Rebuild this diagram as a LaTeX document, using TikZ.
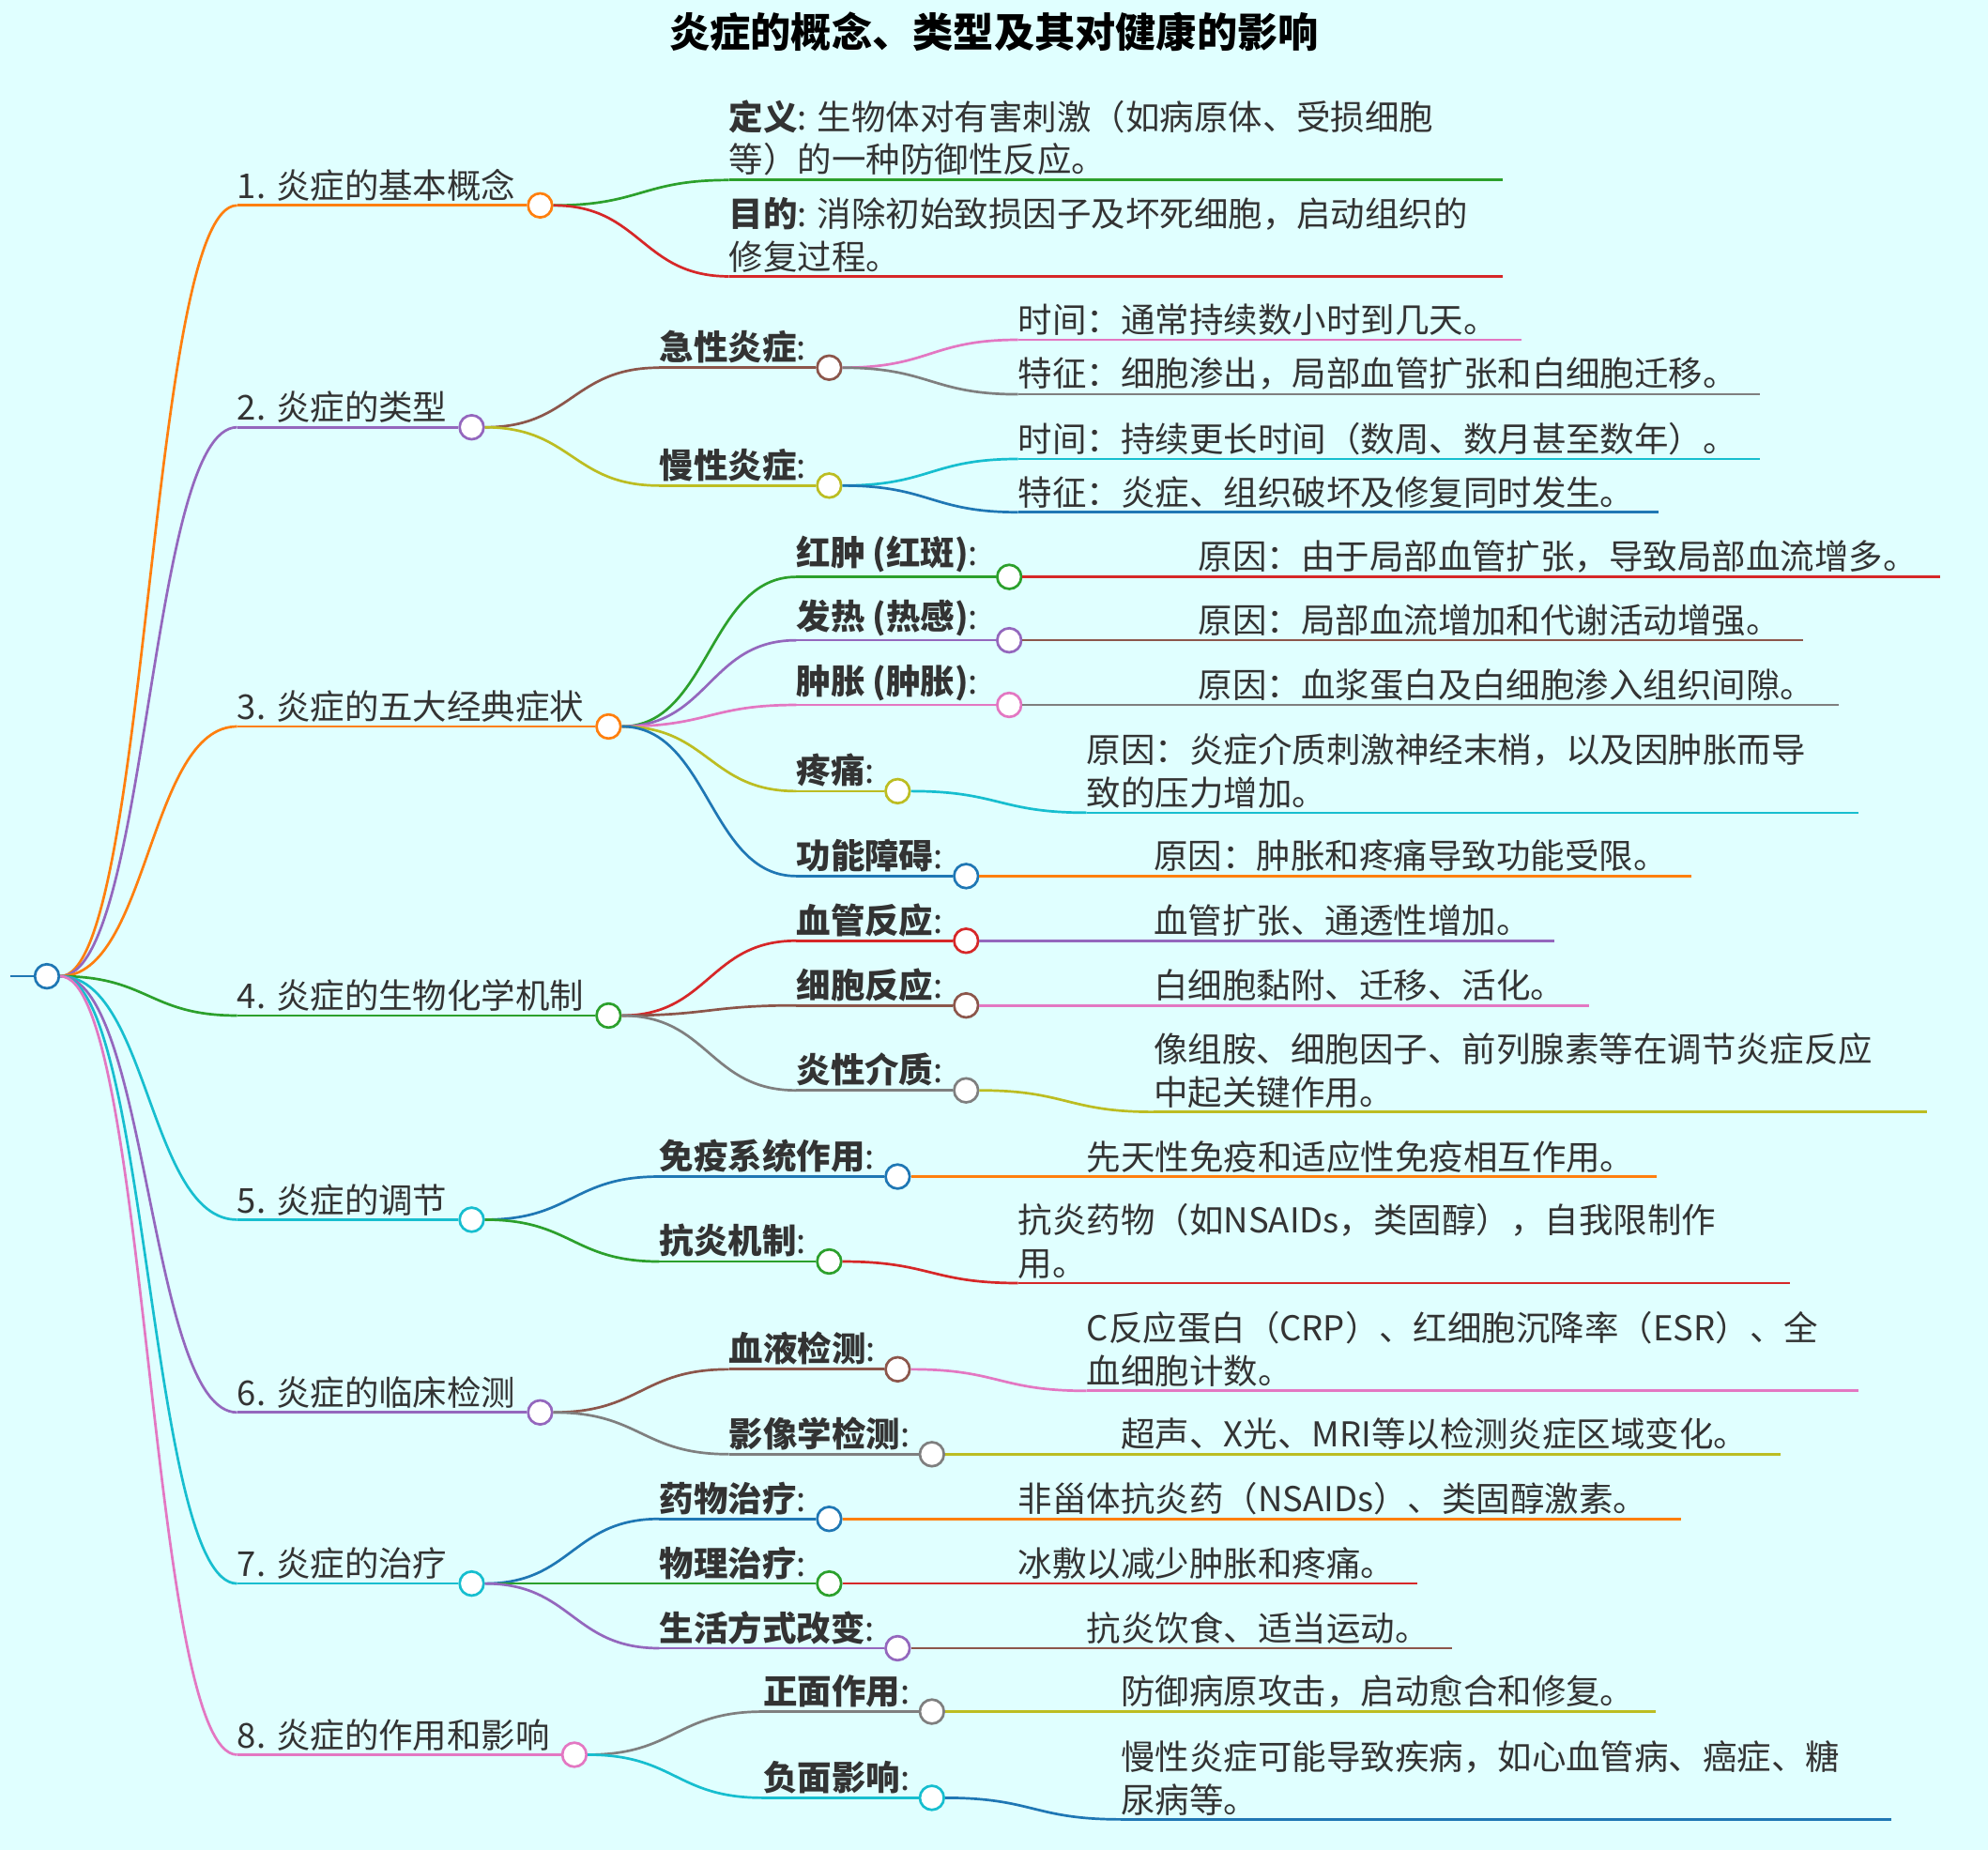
\documentclass[tikz,border=0pt]{standalone}
\usepackage{fontspec}
\usetikzlibrary{calc}
\setmainfont{Noto Sans CJK SC}
\definecolor{bg}{RGB}{224,255,255}
\definecolor{cO}{HTML}{FF7F0E}\definecolor{cP}{HTML}{9467BD}\definecolor{cG}{HTML}{2CA02C}
\definecolor{cR}{HTML}{D62728}\definecolor{cB}{HTML}{8C564B}\definecolor{cK}{HTML}{E377C2}
\definecolor{cY}{HTML}{7F7F7F}\definecolor{cL}{HTML}{BCBD22}\definecolor{cC}{HTML}{17BECF}
\definecolor{cU}{HTML}{1F77B4}\definecolor{txt}{HTML}{333333}
\tikzset{circ/.style={circle,fill=white,line width=2pt,minimum size=19pt,inner sep=0},
 edge/.style={line width=2pt},
 lab/.style={inner sep=0,anchor=south west,font=\fontsize{27}{34}\selectfont,text=txt,align=left,yshift=3pt}}
\newcommand\curve[3]{% color from to
 \draw[edge,#1] let \p1=(#2), \p2=(#3) in (\p1) .. controls ({(\x1+\x2)/2},\y1) and ({(\x1+\x2)/2},\y2) .. (\p2);}
\newcommand\mnode[7]{% name parent xs y xc color label
 \coordinate (#1s) at (#3,#4);
 \node[circ,draw=#6] (#1) at (#5,#4) {};
 \curve{#6}{#2.east}{#1s}
 \draw[edge,#6] (#1s) -- (#1.west);
 \node[lab] (#1t) at (#1s) {#7};}
\newcommand\mleaf[7]{% name parent xs y xe color text
 \coordinate (#1s) at (#3,#4); \coordinate (#1e) at (#5,#4);
 \curve{#6}{#2.east}{#1s}
 \draw[edge,#6] (#1s) -- (#1e);
 \node[lab] (#1t) at (#1s) {#7};}
\begin{document}
\begin{tikzpicture}[x=1pt,y=-1pt]
\fill[bg] (0,0) rectangle (1568,1459);
\useasboundingbox (0,0) rectangle (1568,1459);
\node[font=\fontsize{32}{36}\selectfont\bfseries] (title) at (784,25) {炎症的概念、类型及其对健康的影响};
\node[circ,draw=cU] (root) at (37,770) {};
\coordinate (rl) at (8,770); \draw[edge,cU] (rl) -- (root.west);
% level 1
\mnode{a}{root}{187}{162}{426}{cO}{1. 炎症的基本概念}
\mnode{b}{root}{187}{337}{372}{cP}{2. 炎症的类型}
\mnode{c}{root}{187}{573}{480}{cO}{3. 炎症的五大经典症状}
\mnode{d}{root}{187}{801}{480}{cG}{4. 炎症的生物化学机制}
\mnode{e}{root}{187}{962}{372}{cC}{5. 炎症的调节}
\mnode{f}{root}{187}{1114}{426}{cP}{6. 炎症的临床检测}
\mnode{g}{root}{187}{1249}{372}{cC}{7. 炎症的治疗}
\mnode{h}{root}{187}{1384}{453}{cK}{8. 炎症的作用和影响}
% branch 1
\mleaf{a1}{a}{575}{142}{1185}{cG}{\textbf{定义}: 生物体对有害刺激（如病原体、受损细胞\\等）的一种防御性反应。}
\mleaf{a2}{a}{575}{218}{1185}{cR}{\textbf{目的}: 消除初始致损因子及坏死细胞，启动组织的\\修复过程。}
% branch 2
\mnode{b1}{b}{520}{290}{654}{cB}{\textbf{急性炎症}:}
\mleaf{b11}{b1}{803}{268}{1200}{cK}{时间：通常持续数小时到几天。}
\mleaf{b12}{b1}{803}{311}{1388}{cY}{特征：细胞渗出，局部血管扩张和白细胞迁移。}
\mnode{b2}{b}{520}{383}{654}{cL}{\textbf{慢性炎症}:}
\mleaf{b21}{b2}{803}{362}{1388}{cC}{时间：持续更长时间（数周、数月甚至数年）。}
\mleaf{b22}{b2}{803}{404}{1308}{cU}{特征：炎症、组织破坏及修复同时发生。}
% branch 3
\mnode{c1}{c}{628}{455}{796}{cG}{\textbf{红肿 (红斑)}:}
\mleaf{c11}{c1}{945}{455}{1530}{cR}{原因：由于局部血管扩张，导致局部血流增多。}
\mnode{c2}{c}{628}{505}{796}{cP}{\textbf{发热 (热感)}:}
\mleaf{c21}{c2}{945}{505}{1422}{cB}{原因：局部血流增加和代谢活动增强。}
\mnode{c3}{c}{628}{556}{796}{cK}{\textbf{肿胀 (肿胀)}:}
\mleaf{c31}{c3}{945}{556}{1450}{cY}{原因：血浆蛋白及白细胞渗入组织间隙。}
\mnode{c4}{c}{628}{624}{708}{cL}{\textbf{疼痛}:}
\mleaf{c41}{c4}{857}{641}{1466}{cC}{原因：炎症介质刺激神经末梢，以及因肿胀而导\\致的压力增加。}
\mnode{c5}{c}{628}{691}{762}{cU}{\textbf{功能障碍}:}
\mleaf{c51}{c5}{910}{691}{1334}{cO}{原因：肿胀和疼痛导致功能受限。}
% branch 4
\mnode{d1}{d}{628}{742}{762}{cR}{\textbf{血管反应}:}
\mleaf{d11}{d1}{910}{742}{1226}{cP}{血管扩张、通透性增加。}
\mnode{d2}{d}{628}{793}{762}{cB}{\textbf{细胞反应}:}
\mleaf{d21}{d2}{910}{793}{1253}{cK}{白细胞黏附、迁移、活化。}
\mnode{d3}{d}{628}{860}{762}{cY}{\textbf{炎性介质}:}
\mleaf{d31}{d3}{910}{877}{1520}{cL}{像组胺、细胞因子、前列腺素等在调节炎症反应\\中起关键作用。}
% branch 5
\mnode{e1}{e}{520}{928}{708}{cU}{\textbf{免疫系统作用}:}
\mleaf{e11}{e1}{857}{928}{1307}{cO}{先天性免疫和适应性免疫相互作用。}
\mnode{e2}{e}{520}{995}{654}{cG}{\textbf{抗炎机制}:}
\mleaf{e21}{e2}{803}{1012}{1412}{cR}{抗炎药物（如NSAIDs，类固醇），自我限制作\\用。}
% branch 6
\mnode{f1}{f}{575}{1080}{708}{cB}{\textbf{血液检测}:}
\mleaf{f11}{f1}{857}{1097}{1466}{cK}{C反应蛋白（CRP）、红细胞沉降率（ESR）、全\\血细胞计数。}
\mnode{f2}{f}{575}{1147}{735}{cY}{\textbf{影像学检测}:}
\mleaf{f21}{f2}{884}{1147}{1404}{cL}{超声、X光、MRI等以检测炎症区域变化。}
% branch 7
\mnode{g1}{g}{520}{1198}{654}{cU}{\textbf{药物治疗}:}
\mleaf{g11}{g1}{803}{1198}{1326}{cO}{非甾体抗炎药（NSAIDs）、类固醇激素。}
\mnode{g2}{g}{520}{1249}{654}{cG}{\textbf{物理治疗}:}
\mleaf{g21}{g2}{803}{1249}{1118}{cR}{冰敷以减少肿胀和疼痛。}
\mnode{g3}{g}{520}{1300}{708}{cP}{\textbf{生活方式改变}:}
\mleaf{g31}{g3}{857}{1300}{1145}{cB}{抗炎饮食、适当运动。}
% branch 8
\mnode{h1}{h}{602}{1350}{735}{cY}{\textbf{正面作用}:}
\mleaf{h11}{h1}{884}{1350}{1306}{cL}{防御病原攻击，启动愈合和修复。}
\mnode{h2}{h}{602}{1418}{735}{cC}{\textbf{负面影响}:}
\mleaf{h21}{h2}{884}{1435}{1492}{cU}{慢性炎症可能导致疾病，如心血管病、癌症、糖\\尿病等。}
\end{tikzpicture}
\end{document}
